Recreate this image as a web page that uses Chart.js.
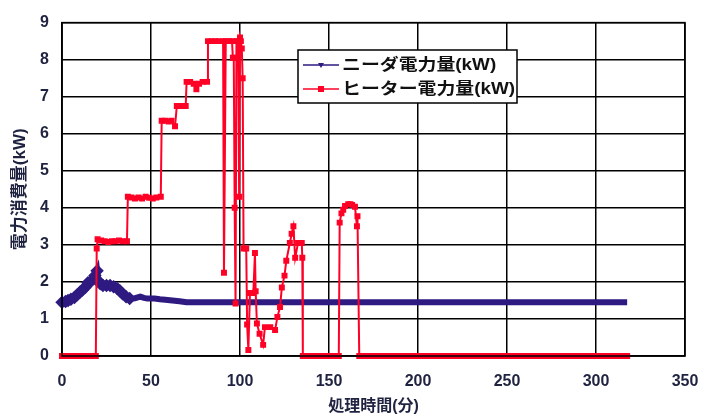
<!DOCTYPE html>
<html><head><meta charset="utf-8">
<script src="https://cdn.jsdelivr.net/npm/chart.js@4/dist/chart.umd.min.js"></script>
<style>html,body{margin:0;padding:0;background:#fff}#wrap{width:701px;height:417px}</style>
</head><body><div id="wrap"><canvas id="c" width="701" height="417"></canvas></div>
<script>
const seriesNames = ["ニーダ電力量(kW)", "ヒーター電力量(kW)"];
const xTitle = "処理時間(分)";
const yTitle = "電力消費量(kW)";
const xTicks = [0, 50, 100, 150, 200, 250, 300, 350];
const yTicks = [0, 1, 2, 3, 4, 5, 6, 7, 8, 9];

// ニーダ (kneader) power, [minute, kW]
const kneaderXY = [
  [0,1.45],[2,1.47],[3.4,1.5],[5,1.53],[7,1.58],[8.5,1.65],[10,1.72],[11.5,1.78],[13,1.85],[14.6,1.98],
  [16.6,2.03],[18.5,2.17],[19.7,2.3],[20.3,2.03],[21.5,1.95],[23,1.9],[25,1.9],[27,1.9],[29,1.87],[31,1.82],
  [32.5,1.76],[34,1.68],[36,1.6],[38,1.55],[41,1.56],[44,1.6],[46,1.57],[48,1.55],[52,1.55],[55,1.53],
  [58,1.52],[62,1.5],[66,1.48],[70,1.45],[80,1.45],[90,1.45],[100,1.45],[110,1.45],[120,1.45],[130,1.45],
  [140,1.45],[150,1.45],[160,1.45],[170,1.45],[180,1.45],[190,1.45],[200,1.45],[210,1.45],[220,1.45],[230,1.45],
  [240,1.45],[250,1.45],[260,1.45],[270,1.45],[280,1.45],[290,1.45],[300,1.45],[310,1.45],[317.5,1.45]
];

// ヒーター (heater) power, [minute, kW]
const heaterXY = [
  [0,0],[2,0],[4,0],[6,0],[8,0],[10,0],[12,0],[14,0],[16,0],[18,0],[19,0],
  [19.5,2.9],[20,3.15],[22,3.12],[24,3.1],[26,3.08],[28,3.1],[30,3.1],[32,3.12],[34,3.1],[36.5,3.1],
  [37,4.3],[39,4.28],[41,4.25],[43,4.28],[45,4.25],[47,4.3],[49,4.27],[51,4.25],[53,4.28],[55.5,4.3],
  [56,6.35],[58,6.35],[60,6.33],[61.5,6.35],[63.5,6.2],[64.5,6.75],[66,6.75],[68,6.75],[69.5,6.75],
  [70,7.4],[72,7.4],[74,7.35],[75.5,7.2],[77,7.35],[79,7.4],[81.5,7.4],
  [82,8.5],[84,8.5],[86,8.5],[88,8.5],[90.5,8.5],[91,2.25],[92,8.5],[94,8.5],[95.5,8.5],
  [96,8.05],[96.5,8.05],[97,4.0],[97.5,1.42],[98,8.5],[99,8.5],[99.5,4.3],[100,8.6],[100.5,8.5],[101,8.3],
  [101.5,7.5],[102,2.9],[103.5,2.9],[104,0.85],[104.7,0.16],[105.6,1.7],[106.5,1.7],[107.5,1.7],[108.4,2.78],[108.8,1.75],
  [109.5,0.88],[111,0.6],[113,0.3],[114,0.78],[117,0.78],[119.7,0.7],[121,1.05],[122.5,1.32],[123.5,1.85],[125,2.17],
  [126,2.57],[128,3.05],[129,3.3],[130,3.5],[131,2.65],[132.6,3.05],[134.7,3.05],[135,2.65],[135.3,0],
  [137,0],[139,0],[141,0],[143,0],[145,0],[147,0],[149,0],[151,0],[153,0],[155.5,0],
  [156,3.6],[157,3.85],[158,3.95],[159,4.05],[160.8,4.1],[162,4.1],[163,4.08],[164.6,4.03],[165.7,3.5],[166,3.77],
  [167,0],[169,0],[171,0],[173,0],[175,0],[177,0],[179,0],[181,0],[183,0],[185,0],[187,0],[189,0],[191,0],[193,0],
  [195,0],[197,0],[199,0],[201,0],[203,0],[205,0],[207,0],[209,0],[211,0],[213,0],[215,0],[217,0],[219,0],[221,0],
  [223,0],[225,0],[227,0],[229,0],[231,0],[233,0],[235,0],[237,0],[239,0],[241,0],[243,0],[245,0],[247,0],[249,0],
  [251,0],[253,0],[255,0],[257,0],[259,0],[261,0],[263,0],[265,0],[267,0],[269,0],[271,0],[273,0],[275,0],[277,0],
  [279,0],[281,0],[283,0],[285,0],[287,0],[289,0],[291,0],[293,0],[295,0],[297,0],[299,0],[301,0],[303,0],[305,0],
  [307,0],[309,0],[311,0],[313,0],[315,0],[317.5,0]
];

const toPts = arr => arr.map(p => ({x: p[0], y: p[1]}));
const FONT = '"Liberation Sans", "Noto Sans CJK JP", Arial, sans-serif';
const BLUE = '#2e1a80', RED = '#ff0026', TXT = '#1f2340';

const legendBox = {
  id: 'legendBox',
  afterDraw(chart) {
    const ctx = chart.ctx;
    const x0 = 298, y0 = 50, w = 219, h = 53;
    ctx.save();
    ctx.fillStyle = '#fff';
    ctx.fillRect(x0, y0, w, h);
    ctx.strokeStyle = '#000';
    ctx.lineWidth = 1.5;
    ctx.strokeRect(x0, y0, w, h);
    chart.data.datasets.forEach((ds, i) => {
      const yy = y0 + 15 + i * 24;
      ctx.strokeStyle = ds.borderColor;
      ctx.lineWidth = 1.5;
      ctx.beginPath(); ctx.moveTo(x0 + 5, yy); ctx.lineTo(x0 + 41, yy); ctx.stroke();
      ctx.fillStyle = ds.borderColor;
      if (i === 0) {
        ctx.beginPath(); ctx.moveTo(x0 + 20, yy - 2); ctx.lineTo(x0 + 26, yy - 2); ctx.lineTo(x0 + 23, yy + 3); ctx.closePath(); ctx.fill();
      } else {
        ctx.fillRect(x0 + 20, yy - 3, 6, 6);
      }
      ctx.save();
      ctx.translate(x0 + 44, yy + 1);
      ctx.scale(1.18, 1);
      ctx.fillStyle = '#111';
      ctx.font = 'bold 16px ' + FONT;
      ctx.textBaseline = 'middle';
      ctx.textAlign = 'left';
      ctx.fillText(ds.label, 0, 0);
      ctx.restore();
    });
    ctx.restore();
  }
};

new Chart(document.getElementById('c'), {
  type: 'scatter',
  data: {
    datasets: [
      { label: seriesNames[0], data: toPts(kneaderXY), showLine: true, borderColor: BLUE, backgroundColor: BLUE,
        borderWidth: 6, pointRadius: c => (c.raw && c.raw.x < 40 ? 2.5 : 0), pointStyle: 'rectRot', clip: false, order: 2 },
      { label: seriesNames[1], data: toPts(heaterXY), showLine: true, borderColor: RED, backgroundColor: RED,
        borderWidth: 2, pointRadius: 2.8, pointStyle: 'rect', clip: false, order: 1 }
    ]
  },
  options: {
    responsive: false, animation: false, devicePixelRatio: 1,
    layout: { autoPadding: false, padding: { left: 0, right: 0, top: 12, bottom: 0 } },
    plugins: { legend: { display: false }, tooltip: { enabled: false } },
    scales: {
      x: {
        type: 'linear', min: 0, max: 350,
        afterBuildTicks: s => { s.ticks = xTicks.map(v => ({value: v})); },
        afterFit: s => { s.height = 61; s.paddingRight = 16; s.paddingLeft = 0; },
        grid: { color: '#000', lineWidth: 1.5, drawTicks: false },
        border: { color: '#000', width: 1.5 },
        ticks: { padding: 16, color: TXT, font: { family: FONT, size: 16, weight: 'bold' }, maxRotation: 0 },
        title: { display: true, text: xTitle, color: TXT, padding: { top: 0, bottom: 1 }, font: { family: FONT, size: 16, weight: 'bold' } }
      },
      y: {
        min: 0, max: 9,
        afterBuildTicks: s => { s.ticks = yTicks.map(v => ({value: v})); },
        afterFit: s => { s.width = 62; },
        grid: { color: '#000', lineWidth: 1.5, drawTicks: false },
        border: { color: '#000', width: 1.5 },
        ticks: { padding: 13, color: TXT, font: { family: FONT, size: 16, weight: 'bold' } },
        title: { display: true, text: yTitle, color: TXT, padding: { top: 10, bottom: 0 }, font: { family: FONT, size: 17, weight: 'bold' } }
      }
    }
  },
  plugins: [legendBox, {
    id: 'frame',
    afterDraw(chart) {
      const a = chart.chartArea, ctx = chart.ctx;
      ctx.save(); ctx.strokeStyle = '#000'; ctx.lineWidth = 1.5;
      ctx.strokeRect(a.left, a.top, a.right - a.left, a.bottom - a.top);
      ctx.restore();
    }
  }]
});
</script>
</body></html>
